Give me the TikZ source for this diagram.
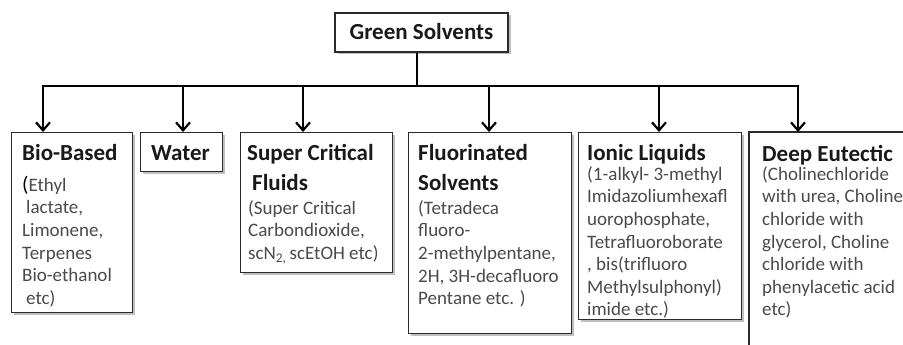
\documentclass[tikz,border=0pt]{standalone}
\usepackage{fontspec}
\setmainfont{Carlito}
\usetikzlibrary{arrows.meta,shadows}
\definecolor{bodytxt}{HTML}{4A4A4A}
\definecolor{boxline}{HTML}{2B2B2B}
\begin{document}
\begin{tikzpicture}[x=1pt,y=-1pt,
  box/.style={draw=boxline, line width=1.2pt, fill=white, anchor=north west, inner sep=0pt,
    drop shadow={shadow xshift=2.5pt, shadow yshift=-2.5pt, opacity=0.25, fill=black}},
  title/.style={anchor=north west, inner sep=0pt, align=left,
    font=\fontsize{23}{30}\selectfont\bfseries, text=black!90},
  body/.style={anchor=north west, inner sep=0pt, align=left,
    font=\fontsize{19}{22.6}\selectfont, text=bodytxt},
  conn/.style={line width=2.2pt, draw=black},
  tip/.style={-{Straight Barb[length=8pt,width=14pt]}}
]
\useasboundingbox (0,0) rectangle (903,345);

% top box
\node[box, anchor=center, minimum width=173pt, minimum height=39pt] (green) at (421.5,32.5) {};
\node[anchor=base, inner sep=0pt, font=\fontsize{23}{30}\selectfont\bfseries, text=black!90] (greent) at (421.5,40) {Green Solvents};

% boxes
\node[box, minimum width=121pt, minimum height=180pt] (bio) at (11,132) {};
\node[box, minimum width=82pt, minimum height=39pt] (water) at (140,132) {};
\node[box, minimum width=152pt, minimum height=140pt] (scf) at (240,132) {};
\node[box, minimum width=163pt, minimum height=201pt] (fluo) at (408,132) {};
\node[box, minimum width=163pt, minimum height=187pt] (ionic) at (578,132) {};
\coordinate (deeptl) at (749,132);
\coordinate (deepbl) at (749,345);
\coordinate (deeptr) at (903,132);
\draw[draw=boxline, line width=1.2pt] (deepbl) -- (deeptl) -- (deeptr);

% texts
\node[title] (biot) at (22,139) {\rule{0pt}{21pt}Bio-Based};
\node[body] (biob) at (22,174) {\rule{0pt}{17pt}{\color{black}\fontsize{21}{22.6}\selectfont(}Ethyl\\ \hspace{4pt}lactate,\\ Limonene,\\ Terpenes\\ Bio-ethanol\\ \hspace{4pt}etc)};

\node[title] (watert) at (151,139) {\rule{0pt}{21pt}Water};

\node[title] (scft) at (247,139) {\rule{0pt}{21pt}Super Critical\\ \hspace{5pt}Fluids};
\node[body] (scfb) at (248,197) {\rule{0pt}{17pt}(Super Critical\\ Carbondioxide,\\ scN\textsubscript{2,}\,scEtOH etc)};

\node[title] (fluot) at (418,139) {\rule{0pt}{21pt}Fluorinated\\ Solvents};
\node[body] (fluob) at (418,197) {\rule{0pt}{17pt}(Tetradeca\\ fluoro-\\ 2-methylpentane,\\ 2H, 3H-decafluoro\\ Pentane etc. )};

\node[title] (ionict) at (587,139) {\rule{0pt}{21pt}Ionic Liquids};
\node[body] (ionicb) at (587,163) {\rule{0pt}{17pt}(1-alkyl- 3-methyl\\ Imidazoliumhexafl\\ uorophosphate,\\ Tetrafluoroborate\\ , bis(trifluoro\\ Methylsulphonyl)\\ imide etc.)};

\node[title] (deept) at (762,140) {\rule{0pt}{21pt}Deep Eutectic};
\node[body] (deepb) at (762,163) {\rule{0pt}{17pt}(Cholinechloride\\ with urea, Choline\\ chloride with\\ glycerol, Choline\\ chloride with\\ phenylacetic acid\\ etc)};

% connectors
\coordinate (stem) at (417,86);
\coordinate (b1) at (43,86);
\coordinate (b2) at (183,86);
\coordinate (b3) at (303,86);
\coordinate (b4) at (489,86);
\coordinate (b5) at (659,86);
\coordinate (b6) at (798,86);
\draw[conn] (stem |- green.south) -- (stem);
\draw[conn, {Straight Barb[length=8pt,width=14pt]}-{Straight Barb[length=8pt,width=14pt]}]
  (b1 |- bio.north) -- (b1) -- (b6) -- (b6 |- deeptl);
\draw[conn, tip] (b2) -- (b2 |- water.north);
\draw[conn, tip] (b3) -- (b3 |- scf.north);
\draw[conn, tip] (b4) -- (b4 |- fluo.north);
\draw[conn, tip] (b5) -- (b5 |- ionic.north);
\end{tikzpicture}
\end{document}
